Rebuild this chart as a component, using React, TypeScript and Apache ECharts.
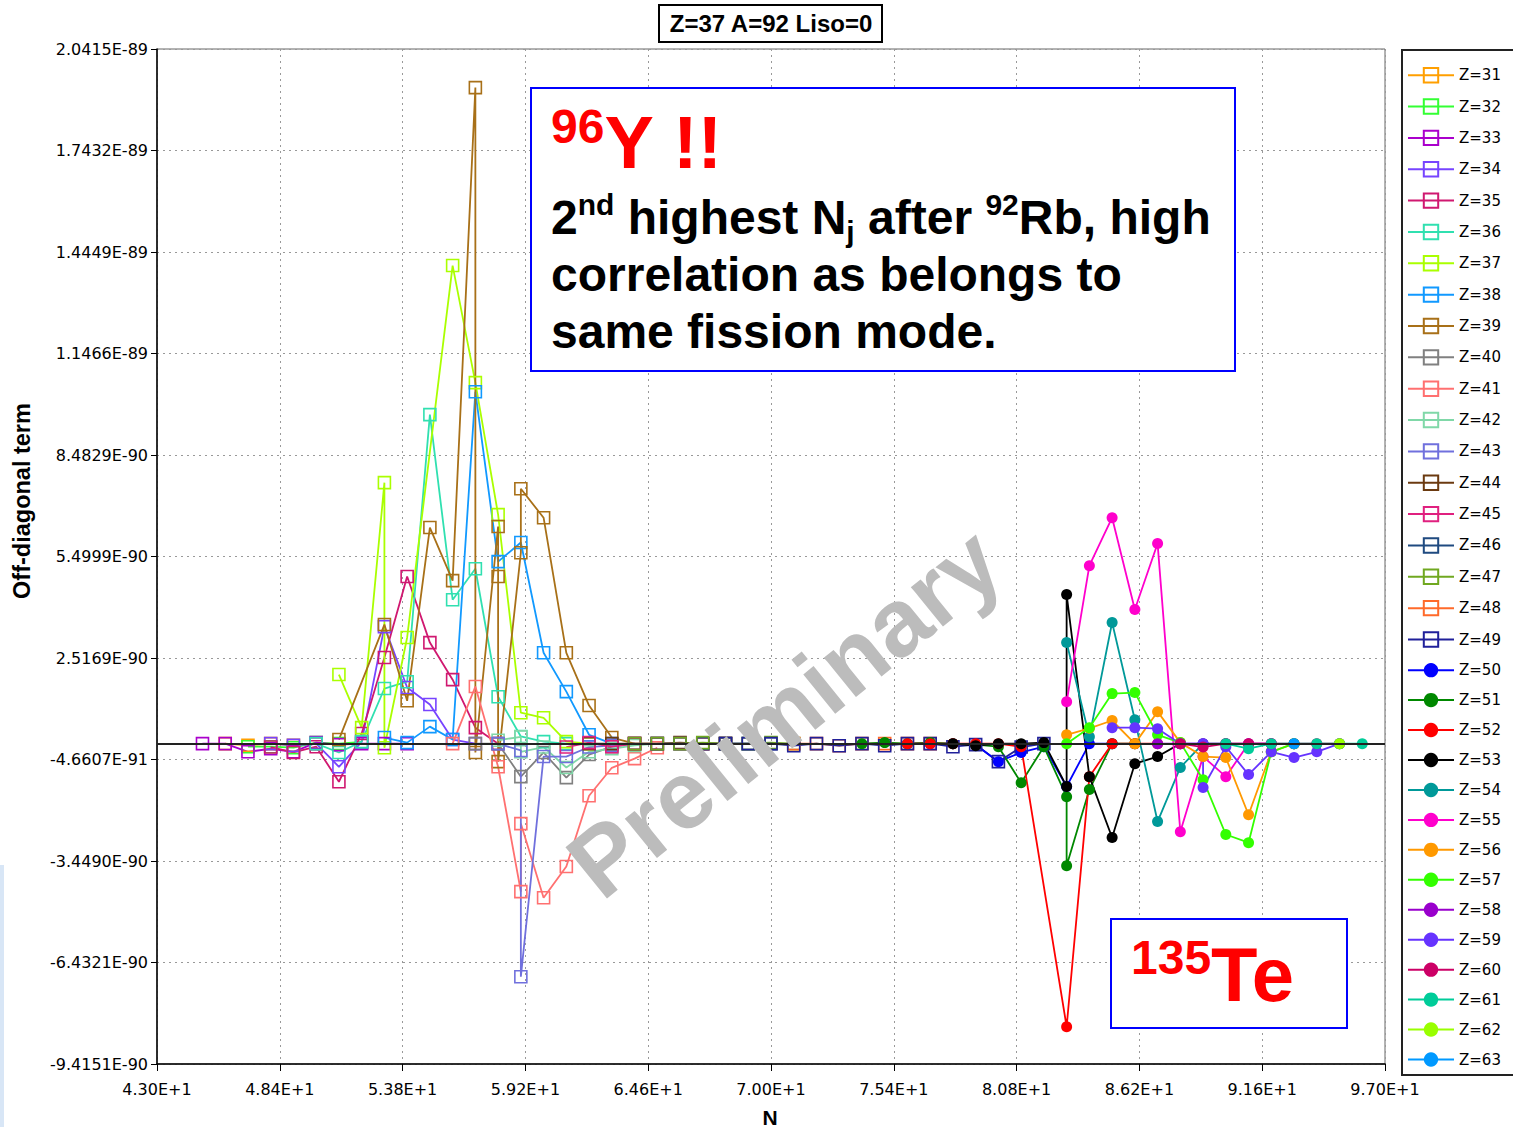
import React, { useEffect, useRef } from "react";
import * as echarts from "echarts";

// ---- axes (N on x, off-diagonal term in units of 1e-90 on y) ----
const X_MIN = 43;
const X_STEP = 5.4;
const X_TICKS = 10;
const Y_MIN = -9.4151;
const Y_STEP = 2.983;
const Y_TICKS = 10;

const xTickLabels = ["4.30E+1", "4.84E+1", "5.38E+1", "5.92E+1", "6.46E+1", "7.00E+1", "7.54E+1", "8.08E+1", "8.62E+1", "9.16E+1", "9.70E+1"];
const yTickLabels = ["-9.4151E-90", "-6.4321E-90", "-3.4490E-90", "-4.6607E-91", "2.5169E-90", "5.4999E-90", "8.4829E-90", "1.1466E-89", "1.4449E-89", "1.7432E-89", "2.0415E-89"];

const zList = [31, 32, 33, 34, 35, 36, 37, 38, 39, 40, 41, 42, 43, 44, 45, 46, 47, 48, 49, 50, 51, 52, 53, 54, 55, 56, 57, 58, 59, 60, 61, 62, 63];
const zColors = [
  "#FF9F00", "#33FF33", "#AA00CC", "#7744FF", "#D01870", "#30E0B0", "#AAFF00", "#1199FF", "#A87018", "#808080",
  "#FF7070", "#80D8A8", "#7070DD", "#6B3A10", "#E0207F", "#1F4A80", "#70A820", "#FF6A2A", "#20209A",
  "#0000FF", "#008800", "#FF0000", "#000000", "#009999", "#FF00CC", "#FF9900", "#33FF00", "#9900CC", "#6633FF",
  "#CC0066", "#00CC99", "#99FF00", "#0099FF",
];

// [N, value in 1e-90]
const z31 = [[46, 0], [47, -0.05], [48, 0], [49, -0.05], [50, 0]];
const z32 = [[47, -0.09], [48, -0.09], [49, -0.12], [50, 0.03], [51, 0], [52, 0.05]];
const z33 = [[45, 0], [46, 0], [47, -0.24], [48, -0.15], [49, -0.24], [50, 0.03], [51, -0.03], [52, 0], [53, 0], [54, 0]];
const z34 = [[48, 0], [49, -0.05], [50, 0], [51, -0.68], [52, 0.05], [53, 3.44], [54, 1.65], [55, 1.15], [56, 0.12], [57, 0]];
const z35 = [[48, -0.1], [49, -0.26], [50, -0.09], [51, -1.12], [52, 0.3], [53, 2.53], [54, 4.91], [55, 2.97], [56, 1.88], [57, 0.47], [58, 0]];
const z36 = [[50, 0], [51, -0.26], [52, 0.06], [53, 1.62], [54, 1.82], [55, 9.67], [56, 4.23], [57, 5.14], [58, 1.38], [59, 0.21], [60, 0.06], [61, 0]];
const z37 = [[51, 2.03], [52, 0.47], [53, 7.67], [53, -0.12], [54, 3.12], [56, 14.05], [57, 10.61], [58, 6.73], [59, 0.91], [60, 0.76], [61, 0.06], [62, 0]];
const z38 = [[53, 0.18], [54, 0.03], [55, 0.5], [56, 0.12], [57, 10.34], [58, 5.35], [59, 5.91], [60, 2.67], [61, 1.53], [62, 0.26], [63, 0]];
const z39 = [[51, 0.12], [53, 3.5], [54, 1.26], [55, 6.35], [56, 4.79], [57, 19.28], [57, -0.26], [58, 6.38], [58, 4.91], [58, -0.53], [59, 5.61], [59, 7.49], [60, 6.64], [61, 2.67], [62, 1.12], [63, 0.18], [64, 0]];
const z40 = [[57, 0], [58, 0], [59, -0.97], [60, -0.26], [61, -1.0], [62, -0.32], [63, -0.09], [64, 0]];
const z41 = [[56, 0], [57, 1.68], [58, -0.68], [59, -4.35], [59, -2.35], [60, -4.53], [61, -3.61], [62, -1.53], [63, -0.71], [64, -0.44], [65, -0.12]];
const z42 = [[58, 0.1], [59, 0.2], [59, -0.24], [60, -0.1], [61, -0.7], [62, -0.24], [63, -0.15], [64, -0.05], [65, 0]];
const z43 = [[58, 0], [59, -0.2], [59, -6.85], [60, -0.38], [61, -0.38], [62, -0.1], [63, -0.05], [64, 0]];
const z44 = [[62, 0], [63, 0], [64, 0], [65, 0], [66, 0.03], [67, 0], [68, 0]];
const z45 = [[61, -0.1], [62, 0.03], [63, -0.09], [64, 0], [65, 0], [66, 0], [67, 0], [68, 0]];
const z46 = [[65, 0], [66, 0], [67, 0], [68, 0], [69, 0], [70, 0]];
const z47 = [[64, 0], [65, 0], [66, 0], [67, 0.03], [68, 0], [69, 0], [70, 0.03], [71, 0]];
const z48 = [[71, 0], [72, 0], [73, -0.06], [74, 0], [75, 0], [76, 0], [77, 0]];
const z49 = [[68, 0], [69, 0], [70, 0], [71, -0.06], [72, 0], [73, -0.06], [74, 0], [75, -0.06], [76, 0], [77, 0], [78, -0.09], [79, -0.03], [80, -0.53], [81, -0.1], [82, 0]];
const z50 = [[76, 0], [77, 0], [78, 0], [79, -0.03], [80, -0.53], [81, -0.26], [82, -0.09], [83, -1.26], [84, 0], [85, 0]];
const z51 = [[74, 0], [75, 0.03], [76, 0], [77, 0.03], [78, 0], [79, -0.03], [80, -0.09], [81, -1.15], [82, -0.09], [83, -1.56], [83, -3.59], [84, -1.35], [85, 0], [86, 0]];
const z52 = [[76, 0], [77, 0], [78, 0], [79, 0], [80, 0], [81, -0.09], [83, -8.32], [84, -0.97], [85, 0], [86, 0], [87, 0]];
const z53 = [[78, 0], [79, -0.06], [80, 0], [81, 0], [82, 0.03], [83, -1.26], [83, 4.38], [84, -0.97], [85, -2.76], [86, -0.59], [87, -0.38], [88, 0]];
const z54 = [[83, 2.97], [84, 0.2], [85, 3.56], [86, 0.7], [87, -2.29], [88, -0.7], [89, 0], [90, 0]];
const z55 = [[83, 1.23], [84, 5.23], [85, 6.64], [86, 3.94], [87, 5.88], [88, -2.59], [89, -0.38], [90, -0.97], [91, 0], [92, 0]];
const z56 = [[83, 0.26], [84, 0.45], [85, 0.68], [86, 0], [87, 0.94], [88, 0.03], [89, -0.38], [90, -0.41], [91, -2.09], [92, -0.24], [93, 0]];
const z57 = [[83, 0], [84, 0.47], [85, 1.47], [86, 1.5], [87, 0.26], [88, 0.03], [89, -1.06], [90, -2.67], [91, -2.91], [92, -0.24], [93, 0]];
const z58 = [[87, 0], [88, 0], [89, 0], [90, 0], [91, 0], [92, 0]];
const z59 = [[85, 0.47], [86, 0.47], [87, 0.44], [88, 0], [89, 0], [89, -1.29], [90, -0.09], [91, -0.91], [92, -0.24], [93, -0.41], [94, -0.24], [95, 0]];
const z60 = [[88, 0], [89, -0.1], [90, 0], [91, 0], [92, 0], [93, 0], [94, 0], [95, 0]];
const z61 = [[90, 0], [91, -0.15], [92, 0], [93, 0], [94, 0], [95, 0], [96, 0]];
const z62 = [[95, 0]];
const z63 = [[93, 0]];

const seriesData = [z31, z32, z33, z34, z35, z36, z37, z38, z39, z40, z41, z42, z43, z44, z45, z46, z47, z48, z49, z50, z51, z52, z53, z54, z55, z56, z57, z58, z59, z60, z61, z62, z63];

const chartTitle = "Z=37 A=92 Liso=0";
const yAxisTitle = "Off-diagonal term";
const xAxisTitle = "N";

function buildOption() {
  const series = zList.map((z, i) => {
    const c = zColors[i];
    const square = z < 50;
    const s: any = {
      name: `Z=${z}`,
      type: "line",
      data: seriesData[i].map(([n, v]) => [n - X_MIN, v - Y_MIN]),
      symbol: square ? "rect" : "circle",
      symbolSize: square ? 12 : 11,
      showAllSymbol: true,
      lineStyle: { color: c, width: 1.8 },
      itemStyle: square
        ? { color: "rgba(255,255,255,0)", borderColor: c, borderWidth: 1.6 }
        : { color: c, borderColor: c, borderWidth: 0 },
      emphasis: { disabled: true },
      z: 2,
    };
    if (i === 0) {
      s.markLine = {
        silent: true,
        symbol: ["none", "none"],
        label: { show: false },
        lineStyle: { color: "#222", width: 2, type: "solid" },
        data: [{ yAxis: -Y_MIN }],
      };
    }
    return s;
  });

  const tx = (text: string, x: number, y: number, font: string, fill: string, extra: any = {}) => ({
    type: "text",
    x,
    y,
    z: 12,
    style: { text, font, fill, textAlign: "left", textVerticalAlign: "top", ...extra },
  });

  return {
    animation: false,
    backgroundColor: "#ffffff",
    grid: { left: 157, right: 128, top: 49, bottom: 63, show: true, borderColor: "#666", borderWidth: 1 },
    xAxis: {
      type: "value",
      min: 0,
      max: X_STEP * X_TICKS,
      interval: X_STEP,
      axisLine: { show: true, onZero: false, lineStyle: { color: "#000", width: 1.5 } },
      axisTick: { show: true, length: 7, lineStyle: { color: "#000" } },
      axisLabel: {
        formatter: (v: number) => xTickLabels[Math.round(v / X_STEP)] ?? "",
        fontFamily: "DejaVu Sans",
        fontSize: 16,
        color: "#000",
        margin: 17,
        showMinLabel: true,
        showMaxLabel: true,
      },
      splitLine: { show: true, lineStyle: { color: "#999", type: [2, 4], width: 1 } },
    },
    yAxis: {
      type: "value",
      min: 0,
      max: 29.83,
      interval: Y_STEP,
      axisLine: { show: true, onZero: false, lineStyle: { color: "#000", width: 1.5 } },
      axisTick: { show: true, length: 6, lineStyle: { color: "#000" } },
      axisLabel: {
        formatter: (v: number) => yTickLabels[Math.round(v / Y_STEP)] ?? "",
        fontFamily: "DejaVu Sans",
        fontSize: 16,
        color: "#000",
        margin: 9,
        showMinLabel: true,
        showMaxLabel: true,
      },
      splitLine: { show: true, lineStyle: { color: "#999", type: [2, 4], width: 1 } },
    },
    legend: {
      orient: "vertical",
      left: 1407,
      top: 67,
      itemWidth: 46,
      itemHeight: 18,
      itemGap: 14.95,
      padding: 0,
      textStyle: { fontFamily: "DejaVu Sans", fontSize: 15, color: "#000" },
      data: zList.map((z) => `Z=${z}`),
    },
    graphic: [
      { type: "rect", z: 0, shape: { x: 1402, y: 50, width: 130, height: 1025 }, style: { fill: "#fff", stroke: "#222", lineWidth: 2 } },
      { type: "rect", z: 0, shape: { x: 0, y: 865, width: 4, height: 262 }, style: { fill: "#d8e6f6" } },
      // title
      { type: "rect", z: 10, shape: { x: 659, y: 5, width: 223, height: 37 }, style: { fill: "#fff", stroke: "#000", lineWidth: 2 } },
      { type: "text", z: 11, x: 771, y: 23, style: { text: chartTitle, font: 'bold 24px "Liberation Sans"', fill: "#000", textAlign: "center", textVerticalAlign: "middle" } },
      // axis titles
      { type: "text", z: 11, x: 22, y: 501, rotation: Math.PI / 2, style: { text: yAxisTitle, font: 'bold 23.5px "Liberation Sans"', fill: "#000", textAlign: "center", textVerticalAlign: "middle" } },
      { type: "text", z: 11, x: 770, y: 1117, style: { text: xAxisTitle, font: 'bold 21px "Liberation Sans"', fill: "#000", textAlign: "center", textVerticalAlign: "middle" } },
      // annotation box 1
      { type: "rect", z: 10, shape: { x: 531, y: 88, width: 704, height: 283 }, style: { fill: "#fff", stroke: "#0000FF", lineWidth: 2 } },
      tx("{s|96}{b|Y !!}", 551, 102, 'bold 74px "Liberation Sans"', "#FF0000", {
        rich: {
          s: { font: 'bold 48px "Liberation Sans"', fill: "#FF0000", lineHeight: 52, verticalAlign: "top" },
          b: { font: 'bold 74px "Liberation Sans"', fill: "#FF0000", lineHeight: 80 },
        },
      }),
      tx("{b|2}{s|nd}{b| highest N}{j|j}{b| after }{s|92}{b|Rb, high}\n{b|correlation as belongs to}\n{b|same fission mode.}", 551, 189, 'bold 48px "Liberation Sans"', "#000", {
        rich: {
          b: { font: 'bold 48px "Liberation Sans"', fill: "#000", lineHeight: 57 },
          s: { font: 'bold 30px "Liberation Sans"', fill: "#000", lineHeight: 29, verticalAlign: "top" },
          j: { font: 'bold 30px "Liberation Sans"', fill: "#000", lineHeight: 29, verticalAlign: "bottom" },
        },
      }),
      // annotation box 2
      { type: "rect", z: 10, shape: { x: 1111, y: 919, width: 236, height: 109 }, style: { fill: "#fff", stroke: "#0000FF", lineWidth: 2 } },
      tx("{s|135}{b|Te}", 1131, 933, 'bold 76px "Liberation Sans"', "#FF0000", {
        rich: {
          s: { font: 'bold 48px "Liberation Sans"', fill: "#FF0000", lineHeight: 48, verticalAlign: "top" },
          b: { font: 'bold 76px "Liberation Sans"', fill: "#FF0000", lineHeight: 82 },
        },
      }),
      // watermark
      {
        type: "text",
        z: 20,
        x: 784,
        y: 712,
        rotation: (39 * Math.PI) / 180,
        style: { text: "Preliminary", font: 'bold 96px "Liberation Sans"', fill: "#bcbcbc", textAlign: "center", textVerticalAlign: "middle" },
      },
    ],
    series,
  };
}

export default function App() {
  const ref = useRef<HTMLDivElement>(null);
  useEffect(() => {
    document.body.style.margin = "0";
    const chart = echarts.init(ref.current!, null, { renderer: "svg" });
    chart.setOption(buildOption() as any);
    return () => chart.dispose();
  }, []);
  return <div ref={ref} style={{ position: "absolute", left: 0, top: 0, width: 1513, height: 1127, background: "#fff" }} />;
}
